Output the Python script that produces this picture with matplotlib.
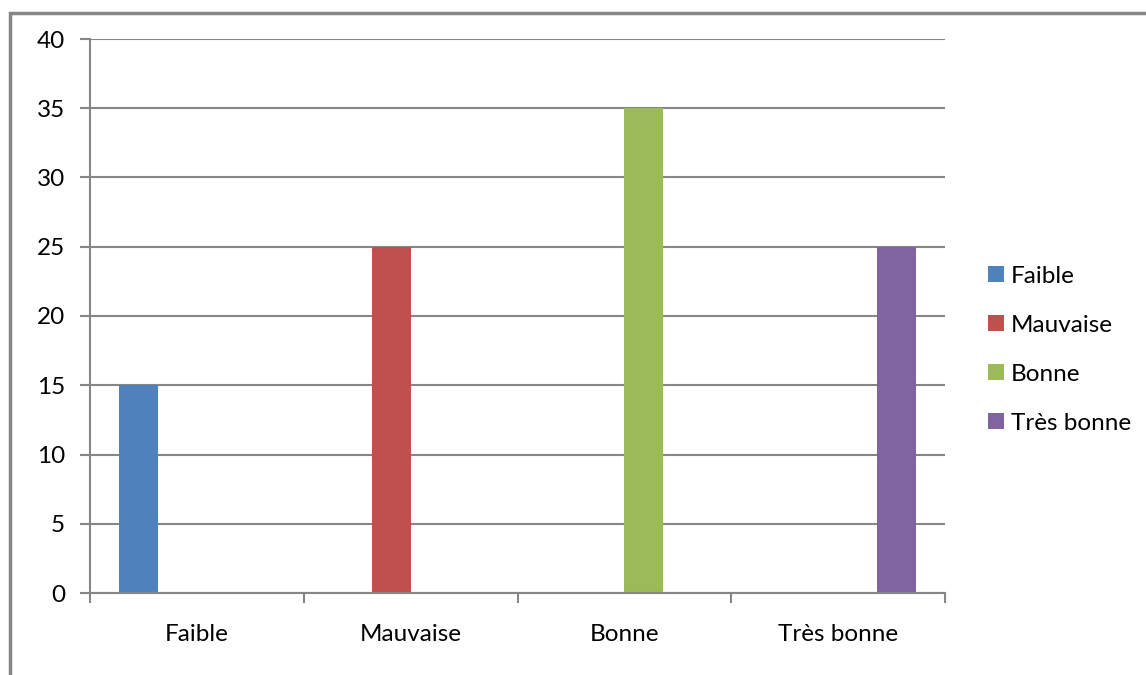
import numpy as np
import matplotlib.pyplot as plt
from matplotlib.patches import Rectangle

categories = ['Faible', 'Mauvaise', 'Bonne', 'Très bonne']
values = [15, 25, 35, 25]
colors = ['#4F81BD', '#C0504D', '#9BBB59', '#8064A2']
yticks = [0, 5, 10, 15, 20, 25, 30, 35, 40]

plt.rcParams['font.family'] = ['Lato', 'DejaVu Sans']
grey = '#868686'
fs = 17.5

fig = plt.figure(figsize=(11.46, 6.75), dpi=100)
W, H = 1146, 675
ax = fig.add_axes([90 / W, 1 - 593 / H, (945 - 90) / W, (593 - 39) / H])

# clustered layout: one series per category, only its own slot filled
bw = 39 / 213.75
x = np.arange(len(categories))
for i, (v, c) in enumerate(zip(values, colors)):
    ax.bar(x[i] + (i - 1.5) * bw, v, width=bw, color=c, label=categories[i], zorder=3)

ax.set_xlim(-0.5, len(categories) - 0.5)
ax.set_ylim(0, 40)
ax.set_yticks(yticks)
ax.yaxis.grid(True, color=grey, lw=1.5, zorder=0)
ax.tick_params(axis='y', length=7, width=1.5, color=grey, labelsize=fs, pad=11)

ax.set_xticks(x)
ax.set_xticklabels(categories)
ax.tick_params(axis='x', length=0, labelsize=fs, pad=22)
ax.set_xticks(np.arange(-0.5, len(categories)), minor=True)
ax.tick_params(axis='x', which='minor', length=7, width=1.5, color=grey)

for s in ['top', 'right']:
    ax.spines[s].set_visible(False)
for s in ['left', 'bottom']:
    ax.spines[s].set_color(grey)
    ax.spines[s].set_linewidth(1.5)
    ax.spines[s].set_zorder(4)

ax.legend(loc='upper left', bbox_to_anchor=(978 / W, 1 - 256 / H), bbox_transform=fig.transFigure,
          frameon=False, fontsize=fs, handlelength=0.65, handleheight=0.65,
          handletextpad=0.3, labelspacing=1.15, borderaxespad=0)

# outer chart frame
fig.patches.append(Rectangle((10 / W, -0.05), 1.1, 1 - 13 / H + 0.05, transform=fig.transFigure,
                             fill=False, edgecolor=grey, lw=2.5))

fig.savefig('out.png', dpi=100)
